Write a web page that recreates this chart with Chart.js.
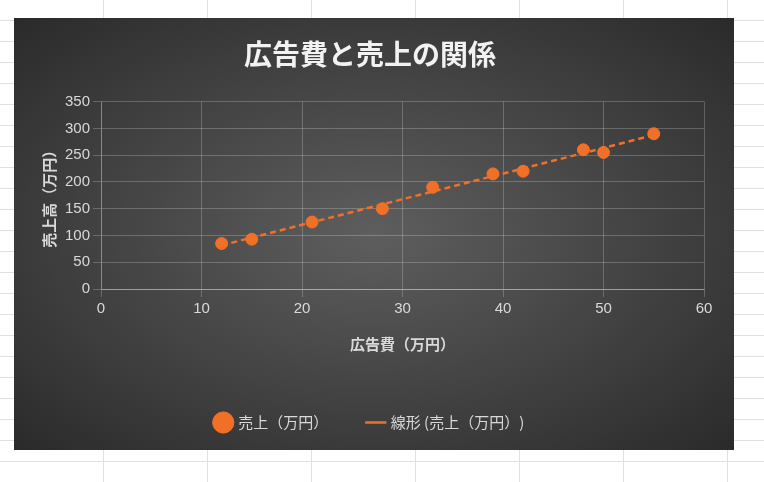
<!DOCTYPE html>
<html><head><meta charset="utf-8">
<script src="https://cdn.jsdelivr.net/npm/chart.js@4"></script>
<style>
body{margin:0;width:764px;height:482px;background-color:#fff;
 background-image:repeating-linear-gradient(to right,transparent 0 103px,#e0e0e0 103px 104px),
 repeating-linear-gradient(to bottom,transparent 0 20px,#e0e0e0 20px 21px);
 font-family:"Noto Sans CJK JP",sans-serif;overflow:hidden}
#box{position:absolute;left:14px;top:18px;width:720px;height:432px;
 background:radial-gradient(ellipse at center,#5e5e5e 0%,#3a3a3a 70%,#2a2a2a 100%)}
</style></head><body>
<div id="box"><canvas id="c" width="720" height="432"></canvas></div>
<script>
// 広告費 (万円) と 売上 (万円)
var adCost = [12, 15, 21, 28, 33, 39, 42, 48, 50, 55];
var sales = [85, 93, 125, 150, 190, 215, 220, 260, 255, 290];

// 線形近似 (最小二乗)
var n = adCost.length, sx = 0, sy = 0, sxy = 0, sxx = 0;
for (var i = 0; i < n; i++) {
    sx += adCost[i]; sy += sales[i];
    sxy += adCost[i] * sales[i]; sxx += adCost[i] * adCost[i];
}
var slope = (n * sxy - sx * sy) / (n * sxx - sx * sx);
var icpt = (sy - slope * sx) / n;
var xMin = Math.min.apply(null, adCost), xMax = Math.max.apply(null, adCost);
var trend = [{x: xMin, y: icpt + slope * xMin}, {x: xMax, y: icpt + slope * xMax}];

var tickColor = '#d9d9d9';
var font = "'Noto Sans CJK JP', sans-serif";
var tickFont = "'Liberation Sans', Arial, sans-serif";

new Chart(document.getElementById('c'), {
    type: 'scatter',
    data: {
        datasets: [{
            label: '売上（万円）',
            data: adCost.map(function (x, i) { return {x: x, y: sales[i]}; }),
            backgroundColor: '#f07028',
            borderColor: '#f07028',
            pointRadius: 6,
            pointStyle: 'circle'
        }, {
            label: '線形 (売上（万円）)',
            type: 'line',
            data: trend,
            borderColor: '#f07028',
            borderWidth: 2.5,
            borderDash: [6, 4],
            pointRadius: 0,
            pointStyle: 'line',
            fill: false
        }]
    },
    options: {
        responsive: false,
        animation: false,
        layout: {padding: {left: 22, right: 30, top: 8, bottom: 10}},
        plugins: {
            title: {
                display: true,
                text: '広告費と売上の関係',
                color: '#f2f2f2',
                font: {family: font, size: 28, weight: 'bold'},
                padding: {top: 12, bottom: 30}
            },
            legend: {
                position: 'bottom',
                labels: {
                    usePointStyle: true,
                    color: tickColor,
                    font: {family: font, size: 15},
                    padding: 40,
                    boxWidth: 40
                }
            },
            tooltip: {enabled: false}
        },
        scales: {
            x: {
                min: 0, max: 60,
                ticks: {stepSize: 10, color: tickColor, font: {family: tickFont, size: 15}},
                grid: {color: 'rgba(255,255,255,0.22)'},
                border: {color: 'rgba(255,255,255,0.35)'},
                title: {display: true, text: '広告費（万円）', color: tickColor,
                        font: {family: font, size: 15, weight: 'bold'}, padding: {top: 14, bottom: 22}}
            },
            y: {
                min: 0, max: 350,
                ticks: {stepSize: 50, color: tickColor, font: {family: tickFont, size: 15}},
                grid: {color: 'rgba(255,255,255,0.22)'},
                border: {color: 'rgba(255,255,255,0.22)'},
                title: {display: true, text: '売上高（万円）', color: tickColor,
                        font: {family: font, size: 15, weight: 'bold'}}
            }
        }
    }
});
</script>
</body></html>
